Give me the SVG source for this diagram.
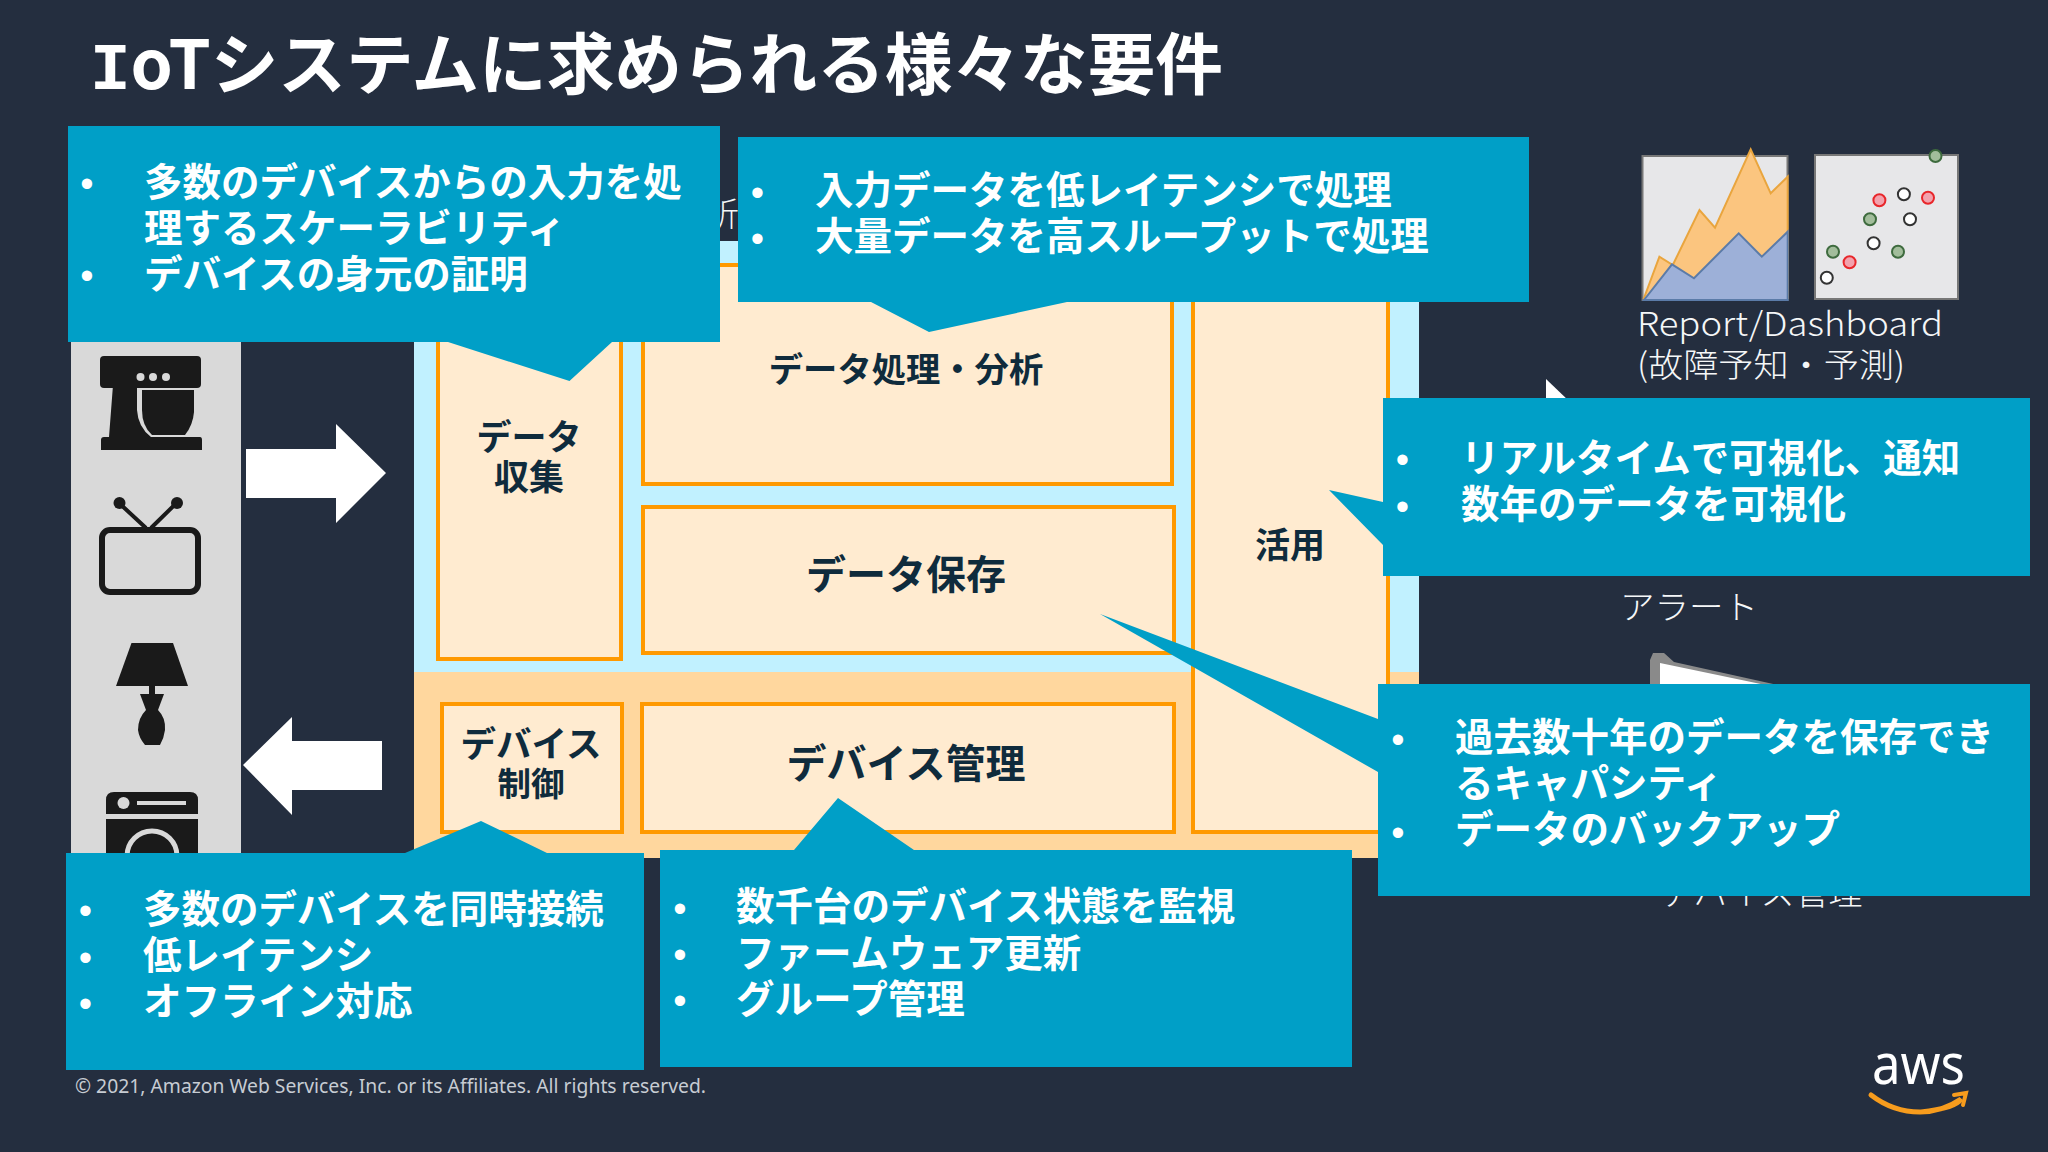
<svg xmlns="http://www.w3.org/2000/svg" width="2048" height="1152" viewBox="0 0 2048 1152">
<style>
text{font-family:"Noto Sans CJK JP","Noto Sans",sans-serif}
.co{fill:#009fc7}
.ct{fill:#fff;font-size:38.5px;font-weight:700}
.bu{fill:#fff;font-size:38px;font-family:"Liberation Sans",sans-serif;text-anchor:middle}
.box{fill:#ffebd0;stroke:#ff9900;stroke-width:4}
.lb{fill:#0f2b3c;font-weight:700;text-anchor:middle}
.wt{fill:#f5f7f8;font-size:33px;font-weight:300}
.ic{fill:#1a1a1a}
.arw{fill:#fff}
.dg{stroke:#3e6b3e;fill:#a2bd9b;stroke-width:2}
.dr{stroke:#e8262a;fill:#f2a2ad;stroke-width:2}
.dw{stroke:#333;fill:#fff;stroke-width:2}
</style>
<rect width="2048" height="1152" fill="#242e3f"/>
<text id="title" x="90" y="89" font-size="67" font-weight="700" fill="#fff" textLength="1133" lengthAdjust="spacingAndGlyphs"><tspan style="font-family:'Liberation Mono',monospace">I</tspan>oTシステムに求められる様々な要件</text>

<g id="devices">
<rect x="71" y="330" width="170" height="530" fill="#d9d9d9"/>
<g id="mixer" class="ic">
<rect x="100" y="356" width="101" height="32" rx="4"/>
<path d="M113 385H137V410Q138 427 151 437H200Q202 437 202 440V450H101V440Q101 437 104 437H109Z"/>
<path d="M142 390H194V412Q193 425 185 435H152Q142 426 142 410Z"/>
<g fill="#d9d9d9"><circle cx="140.500" cy="377" r="4"/><circle cx="153" cy="377" r="4"/><circle cx="166" cy="377" r="4"/></g>
</g>
<g id="tv">
<rect x="102" y="530" width="96" height="62" rx="8" fill="none" stroke="#1a1a1a" stroke-width="6"/>
<path d="M119 503L146 528M176.500 503L151 528" fill="none" stroke="#1a1a1a" stroke-width="4"/>
<circle class="ic" cx="119.500" cy="503" r="6"/><circle class="ic" cx="177" cy="503" r="6"/>
</g>
<g id="lamp" class="ic">
<path d="M131.500 643H173L188 686H116Z"/><rect x="149" y="686" width="6" height="8"/>
<path d="M140 694H164L158 710Q166 718 165 730Q164 738 160 745H145Q139 738 138 730Q138 718 146 710Z"/>
</g>
<g id="washer">
<path class="ic" d="M106 814V800Q106 792 114 792H190Q198 792 198 800V814Z"/>
<rect class="ic" x="106" y="819" width="92" height="40"/>
<circle cx="123.500" cy="803" r="6" fill="#d9d9d9"/><rect x="137" y="801" width="49" height="4" fill="#d9d9d9"/>
<circle cx="152" cy="856" r="25" fill="none" stroke="#d9d9d9" stroke-width="5"/>
</g>
</g>

<g id="connectors">
<path class="arw" d="M246 449H336V424L386 473L336 523V498H246Z"/>
<path class="arw" d="M382 741H292V717L243 765L292 815V790H382Z"/>
</g>

<g id="platform">
<rect x="414" y="241" width="1005" height="431" fill="#c1f1ff"/>
<rect x="414" y="672" width="1005" height="186" fill="#ffd79e"/>
<text class="wt" x="706" y="226">析</text>
</g>

<g id="data-collect"><rect class="box" x="438" y="265" width="183" height="394"/><text class="lb" font-size="35" x="529" y="450">データ</text><text class="lb" font-size="35" x="529" y="490">収集</text></g>
<g id="data-process"><rect class="box" x="643" y="265" width="529" height="219"/><text class="lb" font-size="34.300" x="906" y="382">データ処理・分析</text></g>
<g id="data-store"><rect class="box" x="643" y="507" width="531" height="146"/><text class="lb" font-size="40" x="906" y="589">データ保存</text></g>
<g id="use"><rect class="box" x="1193" y="265" width="195" height="567"/><text class="lb" font-size="35" x="1290" y="558">活用</text></g>
<g id="device-control"><rect class="box" x="442" y="704" width="180" height="128"/><text class="lb" font-size="35.500" x="531" y="757">デバイス</text><text class="lb" font-size="33.500" x="531" y="796">制御</text></g>
<g id="device-mgmt"><rect class="box" x="642" y="704" width="532" height="128"/><text class="lb" font-size="40" x="906" y="778">デバイス管理</text></g>

<g id="dashboard">
<rect x="1642.500" y="156" width="145" height="144" fill="#e7e7e9" stroke="#777" stroke-width="2"/>
<path d="M1644 298L1659.400 256.700L1672.800 265L1699.500 210L1715 227.700L1750.700 149.300L1770.700 193.300L1787.700 176.700V298Z" fill="#fbc57f" stroke="#e9a53e" stroke-width="2"/>
<path d="M1644 300L1672 264.300L1694 278.300L1738.700 233.300L1761.800 256.700L1787.700 231.700V300Z" fill="#9db0d8" stroke="#5b7ba8" stroke-width="2"/>
<rect x="1815" y="155" width="143" height="144" fill="#e7e7e9" stroke="#777" stroke-width="2"/>
<circle class="dg" cx="1935.500" cy="156" r="6"/><circle class="dr" cx="1879.400" cy="200.300" r="6"/><circle class="dw" cx="1903.900" cy="194.300" r="6"/><circle class="dr" cx="1928" cy="197.700" r="6"/><circle class="dg" cx="1870" cy="219.300" r="6"/><circle class="dw" cx="1910" cy="219.300" r="6"/><circle class="dw" cx="1873.600" cy="243.300" r="6"/><circle class="dg" cx="1898" cy="251.700" r="6"/><circle class="dg" cx="1833" cy="251.700" r="6"/><circle class="dr" cx="1849.600" cy="262.300" r="6"/><circle class="dw" cx="1826.800" cy="277.700" r="6"/>
<text class="wt" x="1637" y="336" textLength="306" lengthAdjust="spacingAndGlyphs">Report/Dashboard</text>
<text class="wt" x="1637" y="377" textLength="268" lengthAdjust="spacingAndGlyphs">(故障予知・予測)</text>
</g>
<g id="alert">
<path d="M1546 379L1570 402H1546Z" fill="#fff"/>
<text class="wt" x="1620" y="619" textLength="138" lengthAdjust="spacingAndGlyphs">アラート</text>
<path d="M1650 660L1653 653H1664L1674 662L1800 690H1650Z" fill="#8a8a8a"/>
<path d="M1660 663L1790 690H1660Z" fill="#fff"/>
<text class="wt" style="font-size:34px" x="1761" y="905" text-anchor="middle">デバイス管理</text>
</g>

<g id="callout-ingest"><path class="co" d="M68 126H720V342H612L569.500 381L448 342H68Z"/>
<text class="bu" x="87" y="197">•</text><text class="bu" x="87" y="289">•</text>
<text class="ct" x="144" y="196">多数のデバイスからの入力を処</text><text class="ct" x="144" y="242">理するスケーラビリティ</text><text class="ct" x="144" y="288">デバイスの身元の証明</text></g>
<g id="callout-process"><path class="co" d="M738 137H1529V302H1067L929 332L871 302H738Z"/>
<text class="bu" x="757.500" y="206">•</text><text class="bu" x="757.500" y="252">•</text>
<text class="ct" x="815" y="204">入力データを低レイテンシで処理</text><text class="ct" x="815" y="250">大量データを高スループットで処理</text></g>
<g id="callout-visual"><path class="co" d="M1383 398H2030V576H1383V545L1329 490L1383 502Z"/>
<text class="bu" x="1402.500" y="473">•</text><text class="bu" x="1402.500" y="520">•</text>
<text class="ct" x="1461" y="472">リアルタイムで可視化、通知</text><text class="ct" x="1461" y="518">数年のデータを可視化</text></g>
<g id="callout-store"><path class="co" d="M1378 684H2030V896H1378V772L1100 614L1378 719Z"/>
<text class="bu" x="1398" y="753">•</text><text class="bu" x="1398" y="846">•</text>
<text class="ct" x="1455" y="751">過去数十年のデータを保存でき</text><text class="ct" x="1455" y="797">るキャパシティ</text><text class="ct" x="1455" y="843">データのバックアップ</text></g>
<g id="callout-connect"><path class="co" d="M66 853H405L481 821L547 853H644V1070H66Z"/>
<text class="bu" x="85.500" y="924">•</text><text class="bu" x="85.500" y="971">•</text><text class="bu" x="85.500" y="1017">•</text>
<text class="ct" x="143" y="923">多数のデバイスを同時接続</text><text class="ct" x="143" y="969">低レイテンシ</text><text class="ct" x="143" y="1015">オフライン対応</text></g>
<g id="callout-manage"><path class="co" d="M660 850H794L838 798L914 850H1352V1067H660Z"/>
<text class="bu" x="680" y="922">•</text><text class="bu" x="680" y="968">•</text><text class="bu" x="680" y="1014">•</text>
<text class="ct" x="736" y="920">数千台のデバイス状態を監視</text><text class="ct" x="736" y="967">ファームウェア更新</text><text class="ct" x="736" y="1013">グループ管理</text></g>

<text id="copyright" x="75" y="1093" font-size="20" fill="#c7ccd3" style="font-family:'Noto Sans',sans-serif" textLength="631" lengthAdjust="spacingAndGlyphs">© 2021, Amazon Web Services, Inc. or its Affiliates. All rights reserved.</text>
<g id="aws-logo">
<text x="1872" y="1084" font-size="56" fill="#fff" style="font-family:'Noto Sans',sans-serif" textLength="93" lengthAdjust="spacingAndGlyphs">aws</text>
<path d="M1871 1095Q1893 1112 1920 1112Q1942 1112 1961 1099Q1956 1108 1921 1112" fill="none" stroke="#f79c1d" stroke-width="5" stroke-linecap="round"/>
<path d="M1954 1095L1966 1093L1963 1105" fill="none" stroke="#f79c1d" stroke-width="4" stroke-linecap="round"/>
</g>
</svg>
